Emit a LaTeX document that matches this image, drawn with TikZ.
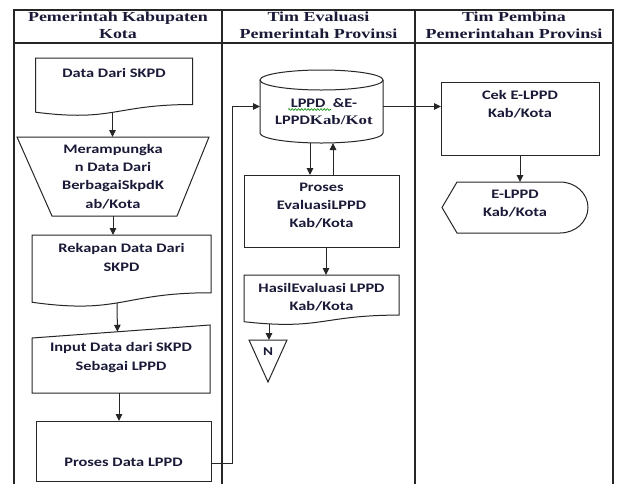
\documentclass[tikz,border=0pt]{standalone}
\usepackage{fontspec}
\setmainfont{Carlito}
\newfontfamily\bodyfont{Carlito}[FakeStretch=1.26]
\newfontfamily\headfont{Liberation Serif}[FakeStretch=1.3]
\usetikzlibrary{arrows.meta,calc,decorations.pathmorphing}
\definecolor{ink}{HTML}{1A1A38}
\definecolor{linec}{HTML}{262626}
\newcommand\docoutline[1]{\draw[outline] (#1.north west) -- (#1.north east) -- ($(#1.north east)!0.802!(#1.south east)$) .. controls ($(#1.north)!0.802!(#1.south)$) and ($(#1.north)!1.107!(#1.south)$) .. ($(#1.north west)!0.934!(#1.south west)$) -- cycle;}
\begin{document}
\begin{tikzpicture}[x=1pt,y=-1pt,
 lane/.style={draw=linec,line width=1.1pt},
 shapebox/.style={inner sep=0pt,outer sep=0pt,draw=none},
 outline/.style={draw=linec,line width=1pt,line join=miter},
 txt/.style={font=\bodyfont\bfseries\fontsize{13}{18.5}\selectfont,text=ink,align=center,inner sep=0pt},
 head/.style={font=\headfont\bfseries\fontsize{13.8}{17}\selectfont,text=ink,align=center,inner sep=0pt},
 arr/.style={draw=linec,line width=1pt,-{Triangle[length=7pt,width=6.5pt]}}]
\useasboundingbox (0,0) rectangle (624,483);
\fill[white] (0,0) rectangle (624,483);
% swimlanes
\draw[lane] (14,490) -- (14,10) -- (613,10) -- (613,490);
\draw[lane] (14,43) -- (613,43);
\draw[lane] (222,10) -- (222,490);
\draw[lane] (415,10) -- (415,490);
\node[head] (hA) at (118,25) {Pemerintah Kabupaten\\Kota};
\node[head] (hB) at (318.5,25) {Tim Evaluasi\\Pemerintah Provinsi};
\node[head] (hC) at (514,25) {Tim Pembina\\Pemerintahan Provinsi};
% lane 1
\node[shapebox,minimum width=157pt,minimum height=58pt] (d1) at (114,87) {};
\docoutline{d1}
\node[txt] (tD1) at (114,73) {Data Dari SKPD};
\node[shapebox,minimum width=192pt,minimum height=79pt] (t1) at (113,176.5) {};
\draw[outline] (t1.north west) -- (t1.north east) -- ([xshift=-32pt]t1.south east) -- ([xshift=35pt]t1.south west) -- cycle;
\node[txt,font=\bodyfont\bfseries\fontsize{13}{18.3}\selectfont] (tT1) at (113,176.5) {Merampungka\\n Data Dari\\BerbagaiSkpdK\\ab/Kota};
\node[shapebox,minimum width=179pt,minimum height=72pt] (d2) at (121.5,271) {};
\docoutline{d2}
\node[txt,font=\bodyfont\bfseries\fontsize{13}{19}\selectfont] (tD2) at (121.5,257.5) {Rekapan Data Dari\\SKPD};
\node[shapebox,minimum width=178pt,minimum height=68pt] (in1) at (121,359) {};
\draw[outline] ([yshift=-13pt]in1.north west) -- (in1.north east) -- (in1.south east) -- (in1.south west) -- cycle;
\node[txt,font=\bodyfont\bfseries\fontsize{13}{19}\selectfont] (tIn) at (121,357.5) {Input Data dari SKPD\\Sebagai LPPD};
\node[shapebox,minimum width=175pt,minimum height=60pt] (p1) at (123.5,451) {};
\draw[outline] (p1.north west) rectangle (p1.south east);
\node[txt] (tP1) at (123.5,462) {Proses Data LPPD};
% lane 1 arrows
\coordinate (a1) at ($(d1.north)!0.933!(d1.south)+(-1.5,0)$);
\draw[arr] (a1) -- (a1 |- t1.north);
\draw[arr] (t1.south) -- (t1.south |- d2.north);
\coordinate (a2) at ($(d2.north)!0.945!(d2.south)+(-4.5,0)$);
\draw[arr] (a2) -- ($([yshift=-13pt]in1.north west)!0.48!(in1.north east)$);
\coordinate (a3) at ([xshift=-2pt]in1.south);
\draw[arr] (a3) -- (a3 |- p1.north);
% lane 2
\node[shapebox,minimum width=123pt,minimum height=73pt] (cy) at (321.5,106.5) {};
\draw[outline] (321.5,80) ellipse [x radius=61.5, y radius=10];
\draw[outline] (260,80) -- (260,133) .. controls (260,138.52) and (287.55,143) .. (321.5,143) .. controls (355.45,143) and (383,138.52) .. (383,133) -- (383,80);
\node[txt,font=\bodyfont\bfseries\fontsize{13}{17}\selectfont] (tCy) at (324,111.5) {LPPD~~\&E-\\LPPD{\headfont Kab/Kot}};
\draw[green!55!black,line width=0.6pt,decorate,decoration={snake,amplitude=0.9pt,segment length=3.2pt}] (288,109.5) -- (331,109.5);
\node[shapebox,minimum width=155pt,minimum height=72pt] (pe) at (321.5,211) {};
\draw[outline] (pe.north west) rectangle (pe.south east);
\node[txt,font=\bodyfont\bfseries\fontsize{13}{18}\selectfont] (tPe) at (321.5,206) {Proses\\EvaluasiLPPD\\Kab/Kota};
\node[shapebox,minimum width=155pt,minimum height=50pt] (h) at (321.5,300) {};
\docoutline{h}
\node[txt,font=\bodyfont\bfseries\fontsize{13}{18}\selectfont] (tH) at (321.5,297) {HasilEvaluasi LPPD\\Kab/Kota};
\node[shapebox,minimum width=38pt,minimum height=42pt] (nN) at (268,361) {};
\draw[outline] (nN.north west) -- (nN.north east) -- (nN.south) -- cycle;
\node[txt,font=\bodyfont\bfseries\fontsize{12}{14}\selectfont] (tN) at (268,352) {N};
% lane 2 arrows
\draw[arr] ([yshift=-12pt]p1.east) -| ([xshift=-28pt]cy.west) -- (cy.west);
\coordinate (c1) at ([xshift=-11.5pt]cy.south);
\draw[arr] (c1) -- (c1 |- pe.north);
\coordinate (c2) at ([xshift=11.5pt]pe.north);
\draw[arr] (c2) -- (c2 |- cy.south);
\coordinate (c3) at ([xshift=4.5pt]pe.south);
\draw[arr] (c3) -- (c3 |- h.north);
\coordinate (c4) at ($(h.north west)!0.977!(h.south west)+(25,0)$);
\draw[arr] (c4) -- (c4 |- nN.north);
% lane 3
\node[shapebox,minimum width=158pt,minimum height=73pt] (ck) at (520,118.5) {};
\draw[outline] (ck.north west) rectangle (ck.south east);
\node[txt,font=\bodyfont\bfseries\fontsize{13}{18}\selectfont] (tCk) at (520,104) {Cek E-LPPD\\Kab/Kota};
\node[shapebox,minimum width=146pt,minimum height=51pt] (disp) at (515,207.5) {};
\draw[outline] (disp.west) -- (457,182) -- (560,182) .. controls (575.46,182) and (588,193.42) .. (588,207.5) .. controls (588,221.58) and (575.46,233) .. (560,233) -- (457,233) -- cycle;
\node[txt,font=\bodyfont\bfseries\fontsize{13}{18}\selectfont] (tDisp) at (515,204) {E-LPPD\\Kab/Kota};
\draw[arr] (cy.east) -- (cy.east -| ck.west);
\draw[arr] (ck.south) -- (ck.south |- disp.north);
\end{tikzpicture}
\end{document}
